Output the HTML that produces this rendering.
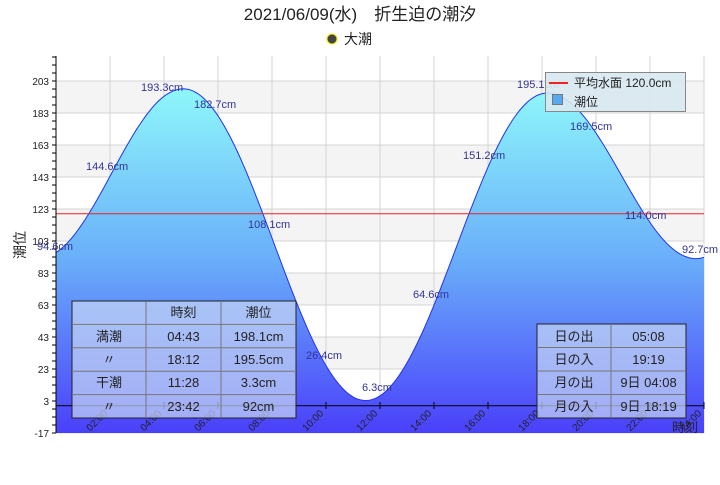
<!DOCTYPE html>
<html><head><meta charset="utf-8"><style>
body{margin:0;background:#fff;width:720px;height:480px;overflow:hidden}
svg{font-family:"Liberation Sans","Noto Sans CJK JP",sans-serif}
</style></head><body>
<svg id="s" width="720" height="480" xmlns="http://www.w3.org/2000/svg">
<defs>
<linearGradient id="g" x1="0" y1="81" x2="0" y2="433" gradientUnits="userSpaceOnUse">
<stop offset="0" stop-color="#90fafa"/><stop offset="0.5" stop-color="#6ab0fa"/><stop offset="1" stop-color="#4a40fa"/>
</linearGradient>
</defs>
<text x="360" y="20" font-size="17" text-anchor="middle" fill="#222">2021/06/09(水)　折生迫の潮汐</text>
<circle cx="332" cy="39" r="5" fill="#444" stroke="#ee0" stroke-width="1"/>
<text x="344" y="44" font-size="14" fill="#222">大潮</text>
<g id="bands"></g>
<path id="area" fill="url(#g)" stroke="none"/>
<path id="line" fill="none" stroke="#2233ee" stroke-width="1"/>
<line x1="56" y1="213.8" x2="704" y2="213.8" stroke="#e22" stroke-width="1"/>
<line x1="56" y1="405.8" x2="704" y2="405.8" stroke="#000" stroke-width="1"/>
<line x1="56" y1="56" x2="56" y2="433" stroke="#000" stroke-width="1"/>
<g id="axes" font-size="10" fill="#222"></g>
<g id="labs" font-size="11" fill="#333399"></g>
<text x="20" y="250" font-size="14" fill="#222" transform="rotate(-90 20 245)" text-anchor="middle">潮位</text>
<text x="672" y="432" font-size="13" fill="#222">時刻</text>
<rect x="545.5" y="72.5" width="140" height="39" fill="#d8e8ef" fill-opacity="0.9" stroke="#888"/>
<line x1="549" y1="83" x2="568" y2="83" stroke="#e22" stroke-width="2"/>
<text x="574" y="87" font-size="12" fill="#222">平均水面 120.0cm</text>
<rect x="552.5" y="94.5" width="10" height="10" fill="#5aa8f0" stroke="#777"/>
<text x="574" y="106" font-size="12" fill="#222">潮位</text>
<g font-size="13" fill="#222" text-anchor="middle">
<rect x="72" y="301" width="224" height="117" fill="#c8d8f4" fill-opacity="0.7" stroke="#222"/>
<g stroke="#777"><line x1="146" y1="301" x2="146" y2="418"/><line x1="221" y1="301" x2="221" y2="418"/>
<line x1="72" y1="324.4" x2="296" y2="324.4"/><line x1="72" y1="347.8" x2="296" y2="347.8"/><line x1="72" y1="371.2" x2="296" y2="371.2"/><line x1="72" y1="394.6" x2="296" y2="394.6"/></g>
<text x="183.5" y="317">時刻</text><text x="258.5" y="317">潮位</text>
<text x="109" y="341">満潮</text><text x="183.5" y="341">04:43</text><text x="258.5" y="341">198.1cm</text>
<text x="109" y="364">〃</text><text x="183.5" y="364">18:12</text><text x="258.5" y="364">195.5cm</text>
<text x="109" y="387">干潮</text><text x="183.5" y="387">11:28</text><text x="258.5" y="387">3.3cm</text>
<text x="109" y="411">〃</text><text x="183.5" y="411">23:42</text><text x="258.5" y="411">92cm</text>
<rect x="537" y="324" width="149" height="94" fill="#c8d8f4" fill-opacity="0.7" stroke="#222"/>
<g stroke="#777"><line x1="611" y1="324" x2="611" y2="418"/>
<line x1="537" y1="347.5" x2="686" y2="347.5"/><line x1="537" y1="371" x2="686" y2="371"/><line x1="537" y1="394.5" x2="686" y2="394.5"/></g>
<text x="574" y="341">日の出</text><text x="648.5" y="341">05:08</text>
<text x="574" y="364">日の入</text><text x="648.5" y="364">19:19</text>
<text x="574" y="387">月の出</text><text x="648.5" y="387">9日 04:08</text>
<text x="574" y="411">月の入</text><text x="648.5" y="411">9日 18:19</text>
</g>
</svg>
<script>
var NS="http://www.w3.org/2000/svg";
function Y(v){return 405.8-1.6*v}
function X(h){return 56+27*h}
function el(p,t,a,txt){var e=document.createElementNS(NS,t);for(var k in a)e.setAttribute(k,a[k]);if(txt)e.textContent=txt;p.appendChild(e);return e}
var b=document.getElementById('bands'),ax=document.getElementById('axes'),lb=document.getElementById('labs');
for(var v=203;v>-17;v-=40){el(b,'rect',{x:56,y:Y(v),width:648,height:32,fill:'#f4f4f4'})}
for(var v=203;v>=-17;v-=20){el(b,'line',{x1:56,x2:704,y1:Y(v),y2:Y(v),stroke:'#d4d4d4'});
 el(ax,'text',{x:49,y:Y(v)+4,'text-anchor':'end'},String(v));}
for(var v=218;v>=-17;v-=5){el(ax,'line',{x1:52,x2:56,y1:Y(v),y2:Y(v),stroke:'#000'})}
for(var h=2;h<=24;h+=2){el(b,'line',{x1:X(h),x2:X(h),y1:56,y2:433,stroke:'#d4d4d4'});
 el(ax,'line',{x1:X(h),x2:X(h),y1:402,y2:409,stroke:'#000'});
 var s=(h<10?'0':'')+h+':00';
 el(ax,'text',{x:X(h)-2,y:414,'text-anchor':'end',transform:'rotate(-45 '+(X(h)-2)+' 414)'},s);}
var ext=[[-0.6,92.5],[4.717,198.1],[11.467,3.3],[18.2,195.5],[23.7,92],[29,198]];
function val(t){for(var i=0;i<ext.length-1;i++){var a=ext[i],c=ext[i+1];if(t>=a[0]&&t<=c[0]){var f=(t-a[0])/(c[0]-a[0]);return a[1]+(c[1]-a[1])*(1-Math.cos(Math.PI*f))/2}}return 92}
var pts=[];for(var t=0;t<=24.0001;t+=0.1){pts.push(X(t).toFixed(1)+','+Y(val(t)).toFixed(1))}
var d='M'+pts.join(' L');
document.getElementById('line').setAttribute('d',d);
document.getElementById('area').setAttribute('d',d+' L704,433 L56,433 Z');
var L=[[37,250,'94.6cm'],[86,170,'144.6cm'],[141,91,'193.3cm'],[194,108,'182.7cm'],[248,228,'108.1cm'],[306,359,'26.4cm'],[362,391,'6.3cm'],[413,298,'64.6cm'],[463,159,'151.2cm'],[517,88,'195.1cm'],[570,130,'169.5cm'],[625,219,'114.0cm'],[682,253,'92.7cm']];
L.forEach(function(l){el(lb,'text',{x:l[0],y:l[1]},l[2])});
</script>
</body></html>
